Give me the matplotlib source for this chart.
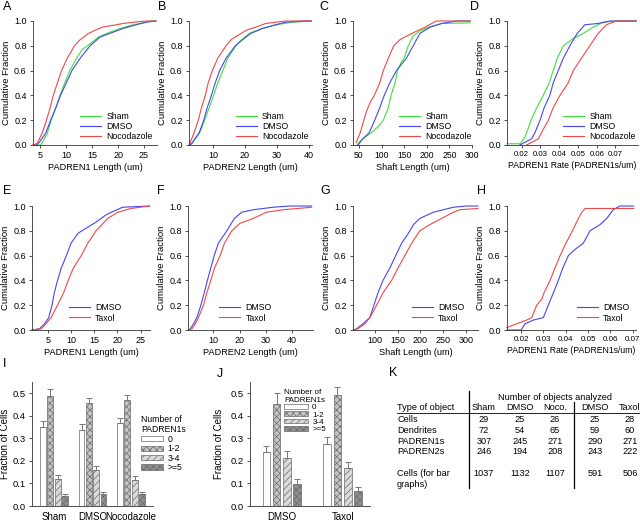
import matplotlib
matplotlib.use("Agg")
import matplotlib.pyplot as plt
from matplotlib.lines import Line2D
import numpy as np

plt.rcParams['font.family'] = ['Liberation Sans', 'DejaVu Sans']
plt.rcParams['hatch.linewidth'] = 0.5

GREEN = '#3ee03e'
BLUE = '#4646f0'
RED = '#f04848'

# cumulative-fraction curves: (x, fraction)
a_sham = [(3.6, 0), (5.0, 0), (5.4, 0.02), (6.4, 0.1), (7.1, 0.2), (8.0, 0.3), (8.8, 0.4), (9.7, 0.5), (10.7, 0.6),
          (12.0, 0.7), (13.1, 0.77), (14.1, 0.8), (16.2, 0.87), (17.8, 0.9), (20.4, 0.94), (22.9, 0.97), (25.4, 0.99), (26.4, 1.0), (27.3, 1.0)]
a_dmso = [(3.6, 0), (4.3, 0), (4.8, 0.02), (6.1, 0.1), (7.0, 0.2), (8.0, 0.3), (8.9, 0.4), (10.0, 0.5), (11.1, 0.6),
          (12.7, 0.7), (14.6, 0.8), (16.5, 0.87), (18.4, 0.9), (21.0, 0.94), (23.5, 0.97), (25.4, 0.99), (27.3, 1.0)]
a_noco = [(3.6, 0), (4.0, 0.005), (4.5, 0.02), (5.4, 0.1), (6.2, 0.2), (6.9, 0.3), (7.5, 0.4), (8.3, 0.5), (9.1, 0.6),
          (10.2, 0.7), (11.6, 0.8), (12.7, 0.85), (14.3, 0.9), (16.9, 0.95), (19.7, 0.97), (21.0, 0.98), (22.9, 0.99), (25.4, 1.0), (27.3, 1.0)]

b_sham = [(2.6, 0), (3.3, 0.01), (5.9, 0.1), (7.4, 0.2), (8.8, 0.3), (10.2, 0.4), (11.5, 0.5), (13.1, 0.6), (14.6, 0.7),
          (17.2, 0.8), (19.0, 0.85), (21.3, 0.9), (25.5, 0.94), (30.1, 0.97), (34.8, 0.99), (40.4, 1.0)]
b_dmso = [(2.6, 0), (3.3, 0.01), (5.7, 0.1), (7.1, 0.2), (8.2, 0.3), (9.5, 0.4), (10.7, 0.5), (12.1, 0.6), (14.1, 0.7),
          (17.0, 0.8), (19.3, 0.85), (21.9, 0.9), (25.5, 0.94), (29.6, 0.97), (32.7, 0.99), (38.9, 1.0), (40.8, 1.0)]
b_noco = [(2.6, 0), (4.1, 0.1), (5.4, 0.2), (6.4, 0.3), (7.6, 0.4), (8.5, 0.5), (9.8, 0.6), (11.5, 0.7), (14.1, 0.8),
          (15.7, 0.85), (18.8, 0.9), (20.8, 0.93), (23.4, 0.95), (26.5, 0.98), (32.7, 1.0), (40.8, 1.0)]

c_sham = [(46, 0), (50, 0.02), (58, 0.05), (78, 0.1), (93, 0.15), (104, 0.2), (115, 0.3), (121, 0.4), (130, 0.5), (135, 0.6),
          (144, 0.67), (150, 0.7), (159, 0.8), (170, 0.88), (185, 0.92), (204, 0.95), (233, 0.98), (296, 0.985)]
c_dmso = [(48, 0), (59, 0.05), (73, 0.1), (85, 0.2), (96, 0.3), (106, 0.4), (118, 0.5), (133, 0.6), (144, 0.65), (155, 0.7),
          (170, 0.8), (185, 0.9), (207, 0.95), (233, 0.98), (267, 1.0), (296, 1.0)]
c_noco = [(44, 0.02), (53, 0.1), (61, 0.2), (65, 0.25), (70, 0.3), (76, 0.35), (84, 0.4), (96, 0.5), (104, 0.6), (115, 0.7),
          (121, 0.75), (127, 0.8), (141, 0.85), (167, 0.9), (196, 0.95), (221, 1.0), (296, 1.0)]

d_sham = [(0.0122, 0.01), (0.0191, 0.01), (0.0212, 0.05), (0.0227, 0.1), (0.025, 0.2), (0.028, 0.3), (0.0315, 0.4),
          (0.0347, 0.5), (0.0368, 0.6), (0.039, 0.7), (0.0422, 0.8), (0.0466, 0.85), (0.0528, 0.9), (0.0581, 0.95),
          (0.0634, 0.99), (0.0705, 1.0), (0.081, 1.0)]
d_dmso = [(0.019, 0), (0.0253, 0.05), (0.0271, 0.1), (0.0298, 0.2), (0.032, 0.3), (0.035, 0.4), (0.0368, 0.5),
          (0.0395, 0.6), (0.0422, 0.7), (0.0457, 0.8), (0.0496, 0.9), (0.0537, 0.97), (0.0608, 0.98), (0.067, 1.0), (0.081, 1.0)]
d_noco = [(0.0227, 0), (0.0289, 0.05), (0.0306, 0.1), (0.0342, 0.2), (0.0368, 0.3), (0.0404, 0.4), (0.0448, 0.5),
          (0.0475, 0.6), (0.0519, 0.7), (0.0563, 0.8), (0.0608, 0.9), (0.0652, 0.97), (0.0705, 1.0), (0.081, 1.0)]

e_dmso = [(1.6, 0), (3.2, 0.01), (4.3, 0.05), (5.2, 0.1), (5.9, 0.2), (6.4, 0.3), (7.1, 0.4), (7.9, 0.5), (9.0, 0.6),
          (10.0, 0.7), (11.5, 0.78), (13.2, 0.82), (15.4, 0.87), (17.6, 0.93), (19.3, 0.96), (21.1, 0.99), (26.9, 1.0)]
e_taxol = [(1.6, 0), (3.6, 0.01), (4.6, 0.05), (5.7, 0.1), (7.1, 0.2), (8.4, 0.3), (9.4, 0.4), (10.5, 0.5), (12.2, 0.6),
           (13.6, 0.7), (15.4, 0.8), (17.9, 0.9), (20.1, 0.95), (22.9, 0.98), (26.9, 1.0)]

f_dmso = [(0.5, 0), (1.2, 0.01), (2.4, 0.05), (3.7, 0.1), (5.2, 0.2), (6.5, 0.3), (7.7, 0.4), (9.0, 0.5), (10.3, 0.6),
          (11.9, 0.7), (15.1, 0.8), (18.0, 0.9), (20.8, 0.95), (25.2, 0.97), (32.8, 0.99), (39.1, 1.0), (47.5, 1.0)]
f_taxol = [(0.5, 0), (1.8, 0.01), (3.1, 0.05), (4.3, 0.1), (6.2, 0.2), (7.5, 0.3), (9.0, 0.4), (10.4, 0.5), (12.6, 0.6),
           (14.2, 0.7), (17.0, 0.8), (20.1, 0.86), (25.2, 0.9), (30.3, 0.95), (36.6, 0.97), (47.5, 0.99)]

g_dmso = [(53, 0), (60, 0.01), (74, 0.05), (89, 0.1), (98, 0.2), (107, 0.3), (118, 0.4), (133, 0.5), (146, 0.6), (159, 0.7),
          (174, 0.78), (185, 0.85), (199, 0.9), (229, 0.95), (273, 0.99), (302, 1.0), (327, 1.0)]
g_taxol = [(53, 0), (63, 0.01), (78, 0.05), (89, 0.1), (104, 0.2), (118, 0.3), (137, 0.4), (151, 0.5), (166, 0.6),
           (181, 0.7), (199, 0.8), (221, 0.85), (247, 0.9), (273, 0.95), (287, 0.97), (327, 0.98)]

h_dmso = [(0.0137, 0), (0.02, 0), (0.0218, 0.05), (0.0255, 0.08), (0.03, 0.1), (0.0322, 0.2), (0.0345, 0.3), (0.0367, 0.4),
          (0.0387, 0.5), (0.0412, 0.6), (0.0442, 0.65), (0.0479, 0.7), (0.0509, 0.8), (0.0554, 0.85), (0.0584, 0.9),
          (0.0613, 0.97), (0.0643, 1.0), (0.0705, 1.0)]
h_taxol = [(0.0136, 0.02), (0.018, 0.05), (0.0225, 0.08), (0.0248, 0.1), (0.027, 0.2), (0.0293, 0.25), (0.0303, 0.3),
           (0.033, 0.4), (0.0352, 0.5), (0.0375, 0.6), (0.0401, 0.7), (0.043, 0.8), (0.0457, 0.9), (0.0472, 0.95),
           (0.0487, 0.98), (0.0705, 0.98)]

# bar chart data
bin_labels = ['0', '1-2', '3-4', '>=5']
i_groups = ['Sham', 'DMSO', 'Nocodazole']
i_vals = [[0.35, 0.49, 0.12, 0.045],
          [0.335, 0.455, 0.158, 0.052],
          [0.367, 0.468, 0.115, 0.052]]
i_errs = [[0.025, 0.03, 0.018, 0.01],
          [0.027, 0.025, 0.018, 0.01],
          [0.025, 0.025, 0.018, 0.01]]
j_groups = ['DMSO', 'Taxol']
j_vals = [[0.238, 0.452, 0.213, 0.098],
          [0.275, 0.493, 0.167, 0.067]]
j_errs = [[0.027, 0.048, 0.03, 0.02],
          [0.03, 0.037, 0.028, 0.018]]

# table K
k_cols = ['Sham', 'DMSO', 'Noco.', 'DMSO', 'Taxol']
k_rows = ['Cells', 'Dendrites', 'PADREN1s', 'PADREN2s', 'Cells (for bar\ngraphs)']
k_vals = [[29, 25, 26, 25, 28],
          [72, 54, 65, 59, 60],
          [307, 245, 271, 290, 271],
          [246, 194, 208, 243, 222],
          [1037, 1132, 1107, 591, 506]]

W, H = 640, 522
fig = plt.figure(figsize=(6.4, 5.22), dpi=100)


def rect(x0, y0, x1, y1):
    # pixel box -> figure fraction
    return [x0 / W, 1 - y1 / H, (x1 - x0) / W, (y1 - y0) / H]


def fx(px):
    return px / W


def fy(py):
    return 1 - py / H


def style(ax, fs=6.5):
    for s in ['top', 'right']:
        ax.spines[s].set_visible(False)
    for s in ['left', 'bottom']:
        ax.spines[s].set_linewidth(0.6)
        ax.spines[s].set_color('#333333')
    ax.tick_params(labelsize=fs, length=2.5, width=0.6, pad=2, color='#333333')


def cdf_panel(box, curves, xlim, xticks, xfmt, xlabel, legend_pos, tick_fs=6.5, xlabel_fs=6.6):
    ax = fig.add_axes(rect(*box))
    style(ax)
    ax.tick_params(axis='x', labelsize=tick_fs)
    for pts, color, label in curves:
        xs = [p[0] for p in pts]
        ys = [p[1] for p in pts]
        ax.plot(xs, ys, color=color, lw=0.8, label=label, clip_on=False)
    ax.set_xlim(*xlim)
    ax.set_ylim(0, 1.0)
    ax.set_xticks(xticks)
    ax.set_xticklabels([xfmt.format(t) for t in xticks])
    ax.set_yticks(np.arange(0, 1.01, 0.2))
    ax.set_yticklabels(['{:.1f}'.format(t) for t in np.arange(0, 1.01, 0.2)])
    ax.set_xlabel(xlabel, fontsize=xlabel_fs, labelpad=2)
    ax.set_ylabel('Cumulative Fraction', fontsize=6.8, labelpad=2)
    ax.legend(loc='lower left', bbox_to_anchor=legend_pos, frameon=False, fontsize=6.3,
              handlelength=2.4, handletextpad=0.6, labelspacing=0.15, borderpad=0, borderaxespad=0)
    return ax


three = lambda a, b, c: [(a, GREEN, 'Sham'), (b, BLUE, 'DMSO'), (c, RED, 'Nocodazole')]
two = lambda a, b: [(a, BLUE, 'DMSO'), (b, RED, 'Taxol')]

cdf_panel((33, 21, 157, 145), three(a_sham, a_dmso, a_noco), (3.6, 27.5), [5, 10, 15, 20, 25], '{}',
          'PADREN1 Length (um)', (0.38, 0.03))
cdf_panel((189, 21, 312, 145), three(b_sham, b_dmso, b_noco), (2.5, 41), [10, 20, 30, 40], '{}',
          'PADREN2 Length (um)', (0.38, 0.03))
cdf_panel((353, 21, 472, 145), three(c_sham, c_dmso, c_noco), (37, 300), [50, 100, 150, 200, 250, 300], '{}',
          'Shaft Length (um)', (0.39, 0.03), tick_fs=6.2)
cdf_panel((507, 21, 638, 145), three(d_sham, d_dmso, d_noco), (0.0122, 0.082),
          [0.02, 0.03, 0.04, 0.05, 0.06, 0.07], '{:.2f}', 'PADREN1 Rate (PADREN1s/um)', (0.43, 0.03),
          tick_fs=5.6, xlabel_fs=6.2)

cdf_panel((32, 206, 150, 330), two(e_dmso, e_taxol), (1.6, 27), [5, 10, 15, 20, 25], '{}',
          'PADREN1 Length (um)', (0.31, 0.06))
cdf_panel((188, 206, 313, 330), two(f_dmso, f_taxol), (0.3, 48), [10, 20, 30, 40], '{}',
          'PADREN2 Length (um)', (0.25, 0.06))
cdf_panel((353, 206, 478, 330), two(g_dmso, g_taxol), (52, 327), [100, 150, 200, 250, 300], '{}',
          'Shaft Length (um)', (0.47, 0.06))
cdf_panel((507, 206, 636, 330), two(h_dmso, h_taxol), (0.0137, 0.0715),
          [0.02, 0.03, 0.04, 0.05, 0.06, 0.07], '{:.2f}', 'PADREN1 Rate (PADREN1s/um)', (0.54, 0.06),
          tick_fs=5.8, xlabel_fs=6.2)

# bar charts
faces = ['white', '#c4c4c4', '#dadada', '#8e8e8e']
hatches = [None, 'xxxxx', '/////', 'xxxxx']


def bar_panel(box, groups, vals, errs, step, width, xlim, leg_anchor, leg_fs, leg_sp, leg_hl, ylab_x):
    ax = fig.add_axes(rect(*box))
    style(ax, fs=6.8)
    x = np.arange(len(groups))
    vals = np.array(vals)
    errs = np.array(errs)
    for k in range(4):
        xs = x + (k - 1.5) * step
        ax.bar(xs, vals[:, k], width=width, color=faces[k], hatch=hatches[k], edgecolor='#6a6a6a',
               linewidth=0.5, label=bin_labels[k])
        ax.errorbar(xs, vals[:, k], yerr=[np.zeros(len(groups)), errs[:, k]], fmt='none',
                    ecolor='#777777', elinewidth=0.7, capsize=2, capthick=0.7)
    ax.set_xlim(*xlim)
    ax.set_ylim(0, 0.55)
    ax.set_yticks(np.arange(0, 0.51, 0.1))
    ax.set_yticklabels(['{:.1f}'.format(t) for t in np.arange(0, 0.51, 0.1)])
    ax.set_xticks(x)
    ax.set_xticklabels(groups)
    ax.tick_params(axis='x', length=0, pad=4, labelsize=7)
    ax.set_ylabel('Fraction of Cells', fontsize=7)
    ax.yaxis.set_label_coords(ylab_x, 0.5)
    fig.legend(*ax.get_legend_handles_labels(), loc='upper left', bbox_to_anchor=leg_anchor,
               frameon=False, fontsize=leg_fs, title='Number of\nPADREN1s', title_fontsize=leg_fs,
               alignment='left', handlelength=leg_hl, handleheight=0.55, handletextpad=0.5,
               labelspacing=leg_sp, borderpad=0, borderaxespad=0)
    return ax


bar_panel((32, 382, 153, 506), i_groups, i_vals, i_errs, 0.19, 0.15, (-0.57, 2.57),
          (fx(141), fy(415)), 6.2, 0.05, 2.6, -0.18)
bar_panel((250, 382, 370, 506), j_groups, j_vals, j_errs, 0.168, 0.125, (-0.52, 1.45),
          (fx(284), fy(389)), 5.8, 0.0, 3.0, -0.22)

# table K
tfs = 6.6
fig.text(fx(555), fy(397), 'Number of objects analyzed', fontsize=tfs, ha='center', va='center')
fig.text(fx(397), fy(407.5), 'Type of object', fontsize=tfs, ha='left', va='center')
col_x = [484, 520, 555, 595, 630]
for cx, name in zip(col_x, k_cols):
    fig.text(fx(cx), fy(407.5), name, fontsize=tfs, ha='center', va='center')
row_y = [420, 430.5, 441, 451.5, 473.5]
for ry, name, vals in zip(row_y, k_rows, k_vals):
    if '\n' in name:
        fig.text(fx(397), fy(ry - 5), name, fontsize=tfs, ha='left', va='top', linespacing=1.3)
    else:
        fig.text(fx(397), fy(ry), name, fontsize=tfs, ha='left', va='center')
    for cx, v in zip(col_x, vals):
        fig.text(fx(cx), fy(ry), str(v), fontsize=tfs, ha='center', va='center')

fig.add_artist(Line2D([fx(397), fx(640)], [fy(413), fy(413)], color='black', lw=0.6))
fig.add_artist(Line2D([fx(469), fx(469)], [fy(391), fy(488)], color='black', lw=0.9))
fig.add_artist(Line2D([fx(574), fx(574)], [fy(402), fy(488)], color='black', lw=0.9))

# panel letters
letters = [('A', 3, 7.5), ('B', 158, 7.5), ('C', 319, 7.5), ('D', 470, 7.5),
           ('E', 3, 191), ('F', 157, 191), ('G', 320, 191), ('H', 477, 191),
           ('I', 3, 364), ('J', 217, 374), ('K', 389, 372.5)]
for t, x, y in letters:
    fig.text(fx(x), fy(y), t, fontsize=9, ha='left', va='center')

fig.savefig('out.png', dpi=100)
